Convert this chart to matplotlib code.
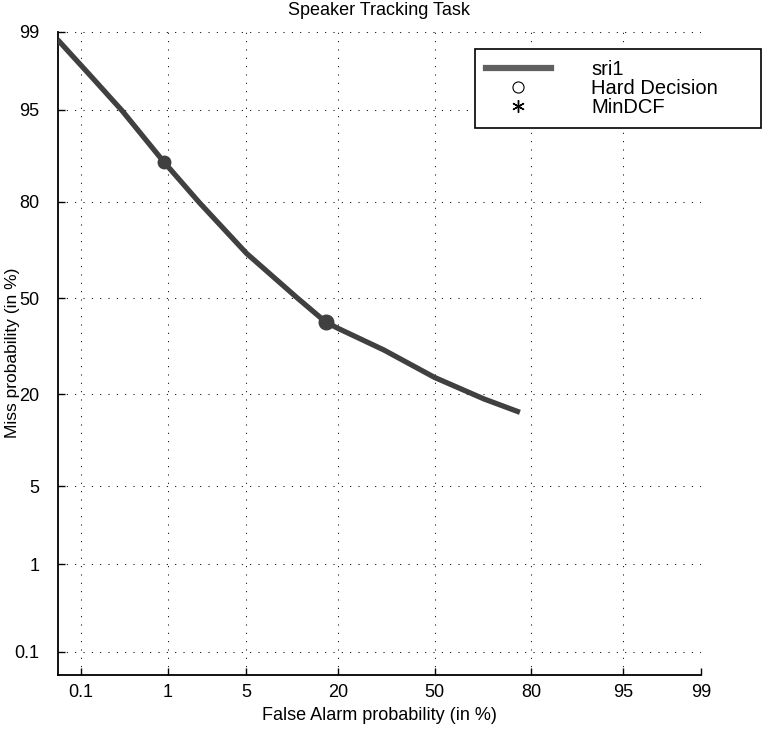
import numpy as np
import matplotlib
matplotlib.use("Agg")
import matplotlib.pyplot as plt
from matplotlib.lines import Line2D
from matplotlib.ticker import FixedLocator, FixedFormatter
from statistics import NormalDist

# ---- data (percent) ----
fa_pct   = [0.05, 0.133, 0.32, 0.904, 2.0, 5.03, 11.5, 17.1, 19.9, 32.9, 50.0, 66.7, 77.2]
miss_pct = [98.8, 97.4, 94.9, 88.3, 79.8, 65.2, 50.1, 41.7, 39.6, 32.5, 24.4, 18.9, 15.9]
hard_fa, hard_miss = [17.1], [41.7]
mindcf_fa, mindcf_miss = [0.904], [88.3]
tick_vals = [0.1, 1, 5, 20, 50, 80, 95, 99]
tick_labels = ["0.1", "1", "5", "20", "50", "80", "95", "99"]

_nd = NormalDist()

def _ppf(p):
    if not np.isfinite(p):
        return np.nan
    p = min(max(p, 1e-9), 1 - 1e-9)
    return _nd.inv_cdf(p)

def fwd(p):
    return np.vectorize(_ppf, otypes=[float])(np.asarray(p, dtype=float) / 100.0)

def inv(z):
    return np.vectorize(lambda v: _nd.cdf(v) if np.isfinite(v) else np.nan,
                        otypes=[float])(np.asarray(z, dtype=float)) * 100.0

plt.rcParams['font.family'] = ['Liberation Sans', 'DejaVu Sans']

fig = plt.figure(figsize=(7.62, 7.29), dpi=100)
ax = fig.add_axes([57.6 / 762, 1 - 674.7 / 729, (701 - 57.6) / 762, (674.7 - 31.7) / 729])

curve_color = '#404040'
ax.plot(fa_pct, miss_pct, color=curve_color, lw=3.8, solid_capstyle='butt',
        solid_joinstyle='round', zorder=3)
ax.plot(hard_fa, hard_miss, 'o', color=curve_color, ms=10.5, zorder=4)
ax.plot(mindcf_fa, mindcf_miss, 'o', color=curve_color, ms=9, zorder=4)

ax.set_xscale('function', functions=(fwd, inv))
ax.set_yscale('function', functions=(fwd, inv))
ax.set_xlim(0.05, 99)
ax.set_ylim(0.05, 99)

for axis in (ax.xaxis, ax.yaxis):
    axis.set_major_locator(FixedLocator(tick_vals))
    axis.set_major_formatter(FixedFormatter(tick_labels))
    axis.set_minor_locator(FixedLocator([]))

ax.tick_params(direction='in', length=5, width=1, labelsize=13, top=False, right=False)
ax.tick_params(axis='x', pad=7)
ax.tick_params(axis='y', pad=13)

ax.grid(True, color='black', lw=0.75, linestyle=(0, (1, 7)))
ax.set_axisbelow(True)
for s in ('top', 'right'):
    ax.spines[s].set_visible(False)
for s in ('left', 'bottom'):
    ax.spines[s].set_linewidth(1.3)

ax.set_title('Speaker Tracking Task', fontsize=13, pad=12)
ax.set_xlabel('False Alarm probability (in %)', fontsize=13, labelpad=4)
ax.set_ylabel('Miss probability (in %)', fontsize=12.5)
ax.yaxis.set_label_coords(-0.058, 0.5)

handles = [
    Line2D([], [], color='#606060', lw=4.5),
    Line2D([], [], marker='o', ls='none', mfc='white', mec='black', ms=8, mew=0.8),
    Line2D([], [], marker=(6, 2, 0), ls='none', color='black', ms=9, mew=1),
]
leg = ax.legend(handles, ['sri1', 'Hard Decision', 'MinDCF'],
                loc='upper left', bbox_to_anchor=(0.649, 0.842, 0.4445, 0.131),
                mode='expand',
                fontsize=14.5, frameon=True, fancybox=False, framealpha=1,
                edgecolor='black', borderaxespad=0, handlelength=3.2,
                handletextpad=2.0, labelspacing=0.0, borderpad=0.55)
leg.get_frame().set_linewidth(1.2)

fig.savefig('out.png', dpi=100)
